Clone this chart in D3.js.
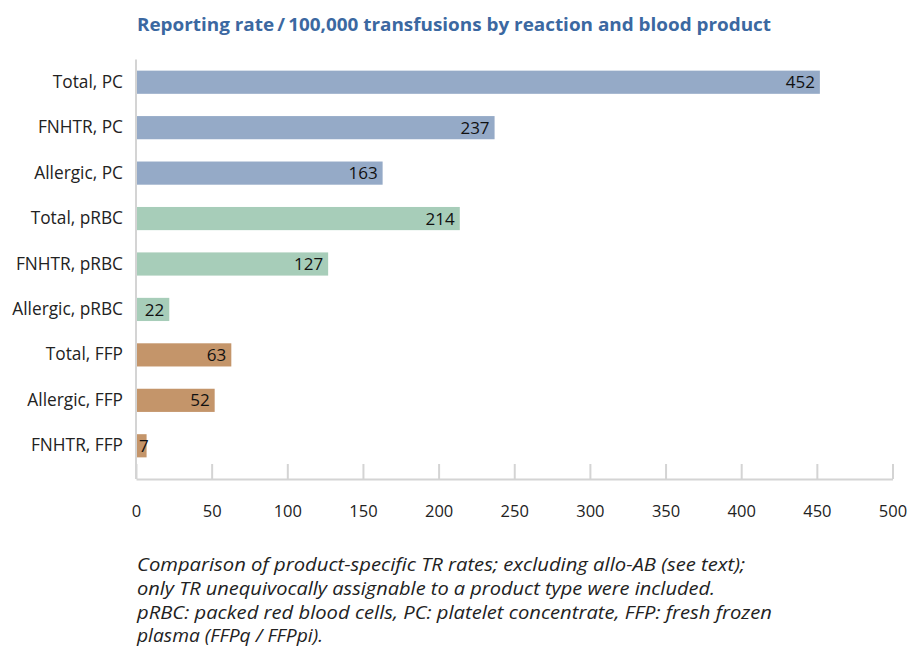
<!DOCTYPE html>
<html><head><meta charset="utf-8">
<script src="https://cdn.jsdelivr.net/npm/d3@7"></script>
<style>body{margin:0;background:#fff}</style>
</head><body>
<svg id="c" width="909" height="648"></svg>
<script>
const categories = ["Total, PC","FNHTR, PC","Allergic, PC","Total, pRBC","FNHTR, pRBC","Allergic, pRBC","Total, FFP","Allergic, FFP","FNHTR, FFP"];
const values = [452,237,163,214,127,22,63,52,7];
const products = ["PC","PC","PC","pRBC","pRBC","pRBC","FFP","FFP","FFP"];
const productColors = {PC:"#95aac7", pRBC:"#a7cdb9", FFP:"#c4956a"};
const xTicks = [0,50,100,150,200,250,300,350,400,450,500];
const title = "Reporting rate\u2009/\u2009100,000 transfusions by reaction and blood product";
const caption = ["Comparison of product-specific TR rates; excluding allo-AB (see text);",
 "only TR unequivocally assignable to a product type were included.",
 "pRBC: packed red blood cells, PC: platelet concentrate, FFP: fresh frozen",
 "plasma (FFPq / FFPpi)."];
const captionWidths = [608, 578, 635, 186];

const svg = d3.select("#c");
const font = "'Open Sans', 'Noto Sans', sans-serif";
const x = d3.scaleLinear().domain([0,500]).range([136,892.5]);
const y = d3.scaleBand().domain(categories).range([59.5,468.5]).paddingInner(0.49).paddingOuter(0.245);

svg.append("text").attr("x",454).attr("y",31).attr("text-anchor","middle")
  .attr("font-family",font).attr("font-weight","bold").attr("font-size",17.5)
  .attr("fill","#3b68a1").attr("textLength",634).attr("lengthAdjust","spacingAndGlyphs").text(title);

// bars
svg.selectAll("rect.bar").data(values).join("rect").attr("class","bar")
  .attr("x",x(0)).attr("y",(d,i)=>y(categories[i]))
  .attr("width",d=>x(d)-x(0)).attr("height",y.bandwidth())
  .attr("fill",(d,i)=>productColors[products[i]]);

// axes
const xAxis = d3.axisBottom(x).tickValues(xTicks).tickSize(0).tickPadding(0);
const gx = svg.append("g").attr("transform","translate(0,479)").call(xAxis);
gx.select(".domain").attr("stroke","#d4d4d4").attr("stroke-width",2);
gx.selectAll(".tick text").attr("font-family",font).attr("font-size",16.5).attr("fill","#222").attr("dy",0).attr("y",38);
gx.selectAll(".tick").append("line").attr("y1",0).attr("y2",-15).attr("stroke","#d4d4d4").attr("stroke-width",2);

const yAxis = d3.axisLeft(y).tickSize(0).tickPadding(13);
const gy = svg.append("g").attr("transform","translate(136,0)").call(yAxis);
gy.select(".domain").attr("stroke","#d4d4d4").attr("stroke-width",2).attr("d","M0,59.5V479");
gy.selectAll(".tick text").attr("font-family",font).attr("font-size",17.3).attr("fill","#222");

// value labels
svg.selectAll("text.val").data(values).join("text").attr("class","val")
  .attr("x",d=> (x(d)-x(0) < 25) ? x(0)+3 : x(d)-5)
  .attr("text-anchor",d=> (x(d)-x(0) < 25) ? "start" : "end")
  .attr("y",(d,i)=>y(categories[i])+y.bandwidth()/2).attr("dy","0.36em")
  .attr("font-family",font).attr("font-size",17).attr("fill","#111").text(d=>d);

svg.selectAll("text.cap").data(caption).join("text").attr("class","cap")
  .attr("x",137).attr("y",(d,i)=>571+i*23.8)
  .attr("textLength",(d,i)=>captionWidths[i]).attr("lengthAdjust","spacingAndGlyphs")
  .attr("font-family",font).attr("font-style","italic").attr("font-size",17.5).attr("fill","#222").text(d=>d);
</script>
</body></html>
